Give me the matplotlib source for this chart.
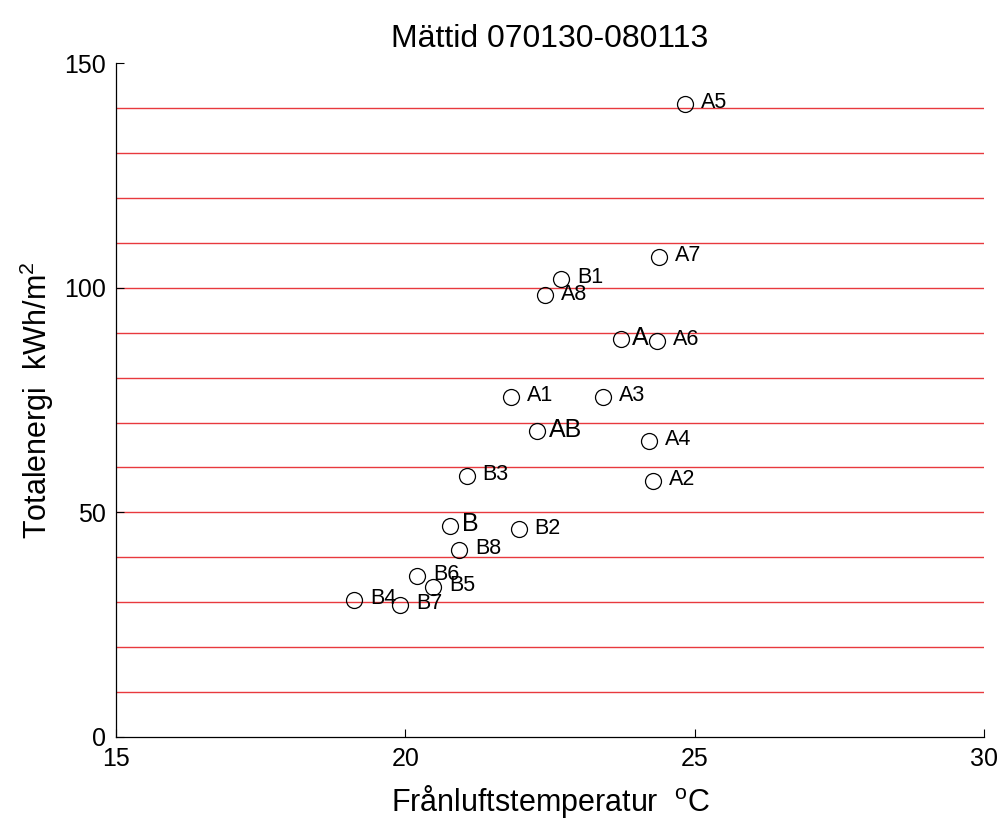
import matplotlib
matplotlib.use("Agg")
import matplotlib.pyplot as plt

plt.rcParams['font.family'] = ['Liberation Sans', 'DejaVu Sans']
plt.rcParams['mathtext.fontset'] = 'custom'
plt.rcParams['mathtext.rm'] = 'Liberation Sans'
plt.rcParams['mathtext.it'] = 'Liberation Sans'

labels = ["A5", "A7", "B1", "A8", "A", "A6", "A1", "A3", "AB", "A4",
          "B3", "A2", "B", "B2", "B8", "B6", "B5", "B4", "B7"]
temps = [24.83, 24.38, 22.69, 22.41, 23.72, 24.35, 21.82, 23.41, 22.27, 24.21,
         21.06, 24.28, 20.78, 21.96, 20.93, 20.20, 20.48, 19.12, 19.91]
energy = [141.0, 106.8, 101.9, 98.3, 88.5, 88.1, 75.7, 75.7, 68.1, 65.9,
          58.2, 57.0, 47.0, 46.2, 41.7, 35.9, 33.3, 30.6, 29.3]
big_labels = ["A", "B", "AB"]
grid_levels = [10, 20, 30, 40, 50, 60, 70, 80, 90, 100, 110, 120, 130, 140]
xticks = [15, 20, 25, 30]
yticks = [0, 50, 100, 150]

fig = plt.figure(figsize=(10, 8.22), dpi=100)
ax = fig.add_axes([0.116, 0.1035, 0.868, 0.8195])

for g in grid_levels:
    ax.axhline(g, color='#e8393e', lw=1.0, zorder=1)

ax.plot(temps, energy, linestyle='none', marker='o', markersize=11.5,
        markerfacecolor='none', markeredgecolor='black', markeredgewidth=0.9, zorder=3)

for lab, x, y in zip(labels, temps, energy):
    if lab in big_labels:
        ax.annotate(lab, (x, y), xytext=(8.5, 1), textcoords='offset points',
                    fontsize=18, va='center', ha='left', zorder=4)
    else:
        ax.annotate(lab, (x, y), xytext=(11.5, 1), textcoords='offset points',
                    fontsize=15.5, va='center', ha='left', zorder=4)

ax.set_xlim(15, 30)
ax.set_ylim(0, 150)
ax.set_xticks(xticks)
ax.set_yticks(yticks)
ax.tick_params(direction='in', length=6, width=0.8, labelsize=18, pad=7)
for s in ['top', 'right']:
    ax.spines[s].set_visible(False)
for s in ['left', 'bottom']:
    ax.spines[s].set_linewidth(0.9)

ax.set_title('Mättid 070130-080113', fontsize=23, pad=12)
ax.set_xlabel('Frånluftstemperatur  $^{\\mathrm{o}}$C', fontsize=22, labelpad=9)
ax.set_ylabel('Totalenergi  kWh/m$^{2}$', fontsize=22, labelpad=6)

fig.savefig('out.png', dpi=100)
